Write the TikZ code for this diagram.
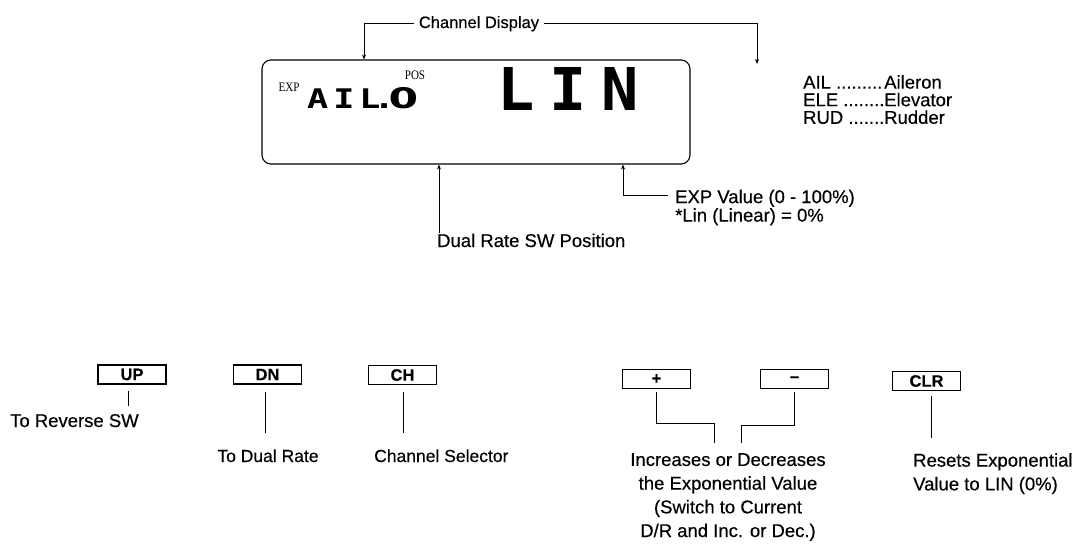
\documentclass[tikz,border=0pt]{standalone}
\usepackage{fontspec}
\setmainfont{Liberation Sans}[FakeBold=0.4]
\newfontfamily\lcdsmall{DejaVu Sans Mono}[FakeStretch=1.3]
\newfontfamily\lcdzero{DejaVu Sans Condensed}
\newfontfamily\lcdbig{DejaVu Sans Mono}[FakeStretch=1.05]
\newfontfamily\lcdlabel{Liberation Serif}[FakeStretch=0.85]
\newcommand\tightlines{\lineskiplimit=-20pt\relax}
\usetikzlibrary{arrows.meta}
\begin{document}
\begin{tikzpicture}[x=1pt,y=-1pt,
  lbl/.style={inner sep=0pt, font=\fontsize{18.5}{17.6}\selectfont\tightlines},
  lblsm/.style={inner sep=0pt, font=\fontsize{17.5}{17.5}\selectfont},
  lbltall/.style={inner sep=0pt, font=\fontsize{18.5}{23.7}\selectfont\tightlines},
  btn/.style={draw, line width=1.6pt, minimum width=68pt, minimum height=19pt, inner sep=0pt, font=\fontsize{16.5}{16.5}\selectfont\bfseries},
  conn/.style={line width=0.8pt},
  arr/.style={conn, -{Stealth[length=5pt,width=4pt]}},
  lcdtag/.style={inner sep=0pt, font=\lcdlabel\fontsize{13}{13}\selectfont}]
\useasboundingbox (0,0) rectangle (1086,546);

% display
\node[draw, line width=1.1pt, rounded corners=9pt, minimum width=428pt, minimum height=104pt, inner sep=0pt] (disp) at (476,112) {};
\node[lcdtag] (exp) at (289,87) {EXP};
\node[lcdtag] (pos) at (415,75) {POS};
\node[anchor=base west, inner sep=0pt, font=\lcdsmall\bfseries\fontsize{27}{27}\selectfont] (chan) at (307,108) {A\hspace{5pt}I\hspace{5pt}L\hspace{-7pt}.\hspace{-6pt}{\lcdzero\scalebox{1.75}[1.05]{0}}};
\node[anchor=base west, inner sep=0pt, font=\lcdbig\bfseries\fontsize{59}{59}\selectfont] (val) at (497,110) {L\hspace{15pt}I\hspace{15pt}N};

% channel display
\node[inner sep=0pt, inner xsep=5pt, anchor=base, font=\fontsize{16.5}{16.5}\selectfont] (cd) at (479,28) {Channel Display};
\coordinate (cdl) at (364,0);
\coordinate (cdr) at (757,64);
\draw[arr] (cd.west) -| (cdl |- disp.north);
\draw[arr] (cd.east) -| (cdr);

\node[lbl, anchor=north west, align=left] (list) at (803,75) {%
\makebox[81pt][l]{AIL .........}Aileron\\
\makebox[81pt][l]{ELE ........}Elevator\\
\makebox[81pt][l]{RUD .......}Rudder};

% dual rate
\node[lbl, anchor=base west] (dr) at (437,247) {Dual Rate SW Position};
\draw[arr] ([xshift=2pt]dr.north west) -- ([xshift=2pt]dr.north west |- disp.south);

% exp value
\node[lbl, anchor=north west, align=left, font=\fontsize{18.5}{18.5}\selectfont\tightlines] (ev) at (675,189.5) {EXP Value (0 - 100\%)\\*Lin (Linear) = 0\%};
\coordinate (evx) at (623,195);
\coordinate (evy) at (668,195);
\draw[arr] (evy) -| (evx |- disp.south);

% buttons
\node[btn] (up) at (132,374.5) {UP};
\node[btn] (dn) at (267.5,374.5) {DN};
\node[btn] (ch) at (402.5,375) {CH};
\node[btn] (plus) at (656.5,379) {+};
\node[btn] (minus) at (794.5,379) {–};
\node[btn] (clr) at (926.5,381) {CLR};

% bottom texts
\node[lbl, anchor=base west] (rev) at (10,427) {To Reverse SW};
\node[lblsm, anchor=base] (dual) at (268,462) {To Dual Rate};
\node[lblsm, anchor=base west] (sel) at (374,462) {Channel Selector};
\node[lbltall, anchor=north, align=center] (inc) at (728,453) {Increases or Decreases\\the Exponential Value\\(Switch to Current\\D/R and Inc. or Dec.)};
\node[lbltall, anchor=north west, align=left] (rst) at (913,453) {Resets Exponential\\Value to LIN (0\%)};

% bottom connectors
\coordinate (upend) at (128,406);
\draw[conn] ([yshift=-6pt]upend |- up.south) -- (upend);
\coordinate (dnend) at (265,433);
\draw[conn] ([yshift=-7pt]dnend |- dn.south) -- (dnend);
\coordinate (chend) at (403,433);
\draw[conn] ([yshift=-7pt]chend |- ch.south) -- (chend);
\coordinate (plj) at (714,423);
\coordinate (incl) at (714,443);
\draw[conn] ([yshift=-3pt]plus.south) |- (plj) -- (incl);
\coordinate (mij) at (741,425);
\coordinate (incr) at (741,443);
\draw[conn] ([yshift=-3pt]minus.south) |- (mij) -- (incr);
\coordinate (clrend) at (931,438);
\draw[conn] ([yshift=-5pt]clrend |- clr.south) -- (clrend);
\end{tikzpicture}
\end{document}
